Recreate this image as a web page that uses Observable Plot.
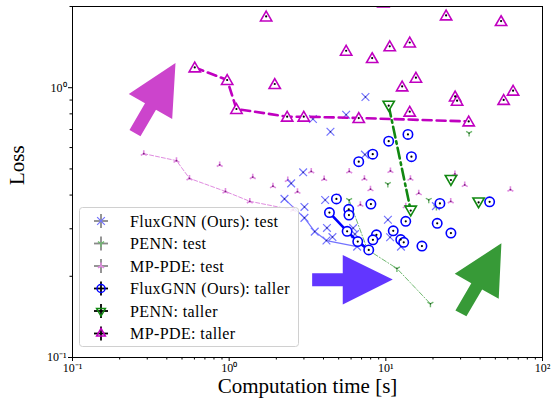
<!DOCTYPE html>
<html>
<head>
<meta charset="utf-8">
<script src="https://cdn.jsdelivr.net/npm/d3@7"></script>
<script src="https://cdn.jsdelivr.net/npm/@observablehq/plot@0.6"></script>
<style>
  body { margin: 0; background: white; }
  #wrap { position: relative; width: 552px; height: 405px; }
  #legend { position: absolute; left: 79px; top: 207px; }
</style>
</head>
<body>
<div id="wrap"></div>
<script>
// ---- tick definitions ----
const xMajor = [0.1, 1, 10, 100];
const xMajorLabels = ["10⁻¹", "10⁰", "10¹", "10²"];
const xMinor = [0.2,0.3,0.4,0.5,0.6,0.7,0.8,0.9,2,3,4,5,6,7,8,9,20,30,40,50,60,70,80,90];
const yMajor = [0.1, 1];
const yMajorLabels = ["10⁻¹", "10⁰"];
const yMinor = [0.2,0.3,0.4,0.5,0.6,0.7,0.8,0.9,2];

const xLabel = "Computation time [s]";
const yLabel = "Loss";

// ---- series: [time (s), loss] ----
const fluxTestLine = [[2.254,0.3871],[3.023,0.3293],[3.518,0.2929],[4.178,0.2713],[6.559,0.2577]];
const fluxTestPts = [[2.967,0.4857],[2.487,0.4420],[3.023,0.3615],[4.100,0.3837],[4.209,0.3022],[4.562,0.2795],
  [6.184,0.3018],[6.350,0.2867],[7.357,0.5649],[10.31,0.3239],[10.65,0.2790],[12.49,0.2577],[20.87,0.3640],
  [7.41,0.924],[3.426,0.766],[5.58,0.794],[4.431,0.687]];

const pennTestLine = [[5.833,0.3831],[7.63,0.2512],[11.77,0.2137],[19.26,0.1581]];
const pennTestPts = [[34.0,0.6784],[10.30,0.4391],[18.79,0.3837],[21.03,0.3608]];

const mpTestLine = [[0.285,0.5696],[0.461,0.5366],[0.558,0.4613],[0.947,0.4126],[1.354,0.3793],[2.561,0.3524]];
const mpTestPts = [[0.870,0.5177],[1.414,0.4665],[1.903,0.4317],[2.366,0.4550],[2.729,0.4119],[3.342,0.4898],
  [4.040,0.4589],[5.84,0.4898],[7.30,0.4603],[7.98,0.4207],[10.70,0.4915],[6.88,0.3686],[5.02,0.3937],
  [14.36,0.4603],[16.22,0.4067],[27.6,0.4790],[31.88,0.4362],[62.4,0.4192],[25.95,0.3793],[13.40,0.3640]];

const fluxTallerLine = [[4.365,0.3444],[5.662,0.2936],[6.618,0.2689],[7.779,0.2505]];
const fluxTallerPts = [[10.43,0.6336],[13.84,0.6714],[14.57,0.5553],[6.716,0.532],[8.25,0.5673],[4.838,0.3871],
  [5.798,0.3542],[5.815,0.3372],[8.03,0.3703],[13.40,0.3196],[11.15,0.2948],[8.71,0.2850],[8.27,0.2729],
  [12.45,0.2735],[13.01,0.2673],[17.00,0.2588],[22.14,0.3725],[21.28,0.3144],[26.03,0.2891],[45.97,0.3776]];

const pennTallerLine = [[10.43,0.858],[14.42,0.3503]];
const pennTallerPts = [[26.03,0.455],[39.1,0.3757]];

const mpTallerLine = [[0.603,1.189],[0.971,1.068],[1.113,0.834],[2.345,0.781],[2.993,0.781],[6.716,0.772],[33.8,0.750]];
const mpTallerPts = [[1.722,1.837],[1.954,1.032],[5.58,1.371],[8.18,1.288],[10.59,1.424],[14.21,1.471],[24.25,1.853],
  [54.4,1.766],[15.56,1.089],[12.71,1.011],[27.69,0.928],[28.5,0.895],[56.5,0.901],[64.9,0.975],[14.21,0.815],[9.65,2.07]];

// ---- annotation arrows (polygons in data units) ----
const magentaArrow = [[0.4544,1.2347],[0.2287,0.9477],[0.2903,0.8754],[0.2311,0.6970],[0.2716,0.6603],[0.3411,0.8289],[0.4328,0.7657]];
const blueArrow = [[3.386,0.2052],[5.309,0.2052],[5.309,0.2401],[11.07,0.1945],[5.309,0.1572],[5.309,0.1837],[3.386,0.1837]];
const greenArrow = [[54.67,0.2651],[27.53,0.2042],[35.13,0.1884],[27.81,0.1493],[32.69,0.1422],[41.18,0.1788],[52.55,0.1650]];

const legendLabels = ["FluxGNN (Ours): test","PENN: test","MP-PDE: test","FluxGNN (Ours): taller","PENN: taller","MP-PDE: taller"];

// ---- colours ----
const C = {
  blue: "#0000ff", blueLight: "#7373ff",
  green: "#118811", greenLight: "#6fb86f",
  mag: "#c000c0", magLight: "#e08ce0",
  arrowMag: "#cc44cc", arrowBlue: "#6236ff", arrowGreen: "#379a37"
};

// custom tri symbols (matplotlib "1" and "2")
const triDown = { draw(ctx, size) { const r = Math.sqrt(size / Math.PI);
  ctx.moveTo(0,0); ctx.lineTo(0, r); ctx.moveTo(0,0); ctx.lineTo(-0.866*r, -0.5*r); ctx.moveTo(0,0); ctx.lineTo(0.866*r, -0.5*r); } };
const triUp = { draw(ctx, size) { const r = Math.sqrt(size / Math.PI);
  ctx.moveTo(0,0); ctx.lineTo(0, -r); ctx.moveTo(0,0); ctx.lineTo(-0.866*r, 0.5*r); ctx.moveTo(0,0); ctx.lineTo(0.866*r, 0.5*r); } };

const X = d => d[0], Y = d => d[1];

const chart = Plot.plot({
  width: 552, height: 405,
  marginLeft: 72, marginRight: 10, marginTop: 6, marginBottom: 48,
  style: { fontFamily: "'Liberation Serif', serif", fontSize: "12px", background: "white", color: "black" },
  x: { type: "log", domain: [0.1, 100] },
  y: { type: "log", domain: [0.1, 2] },
  marks: [
    // arrows
    Plot.line(magentaArrow, { x: X, y: Y, fill: C.arrowMag, stroke: "none", curve: "linear-closed" }),
    Plot.line(blueArrow, { x: X, y: Y, fill: C.arrowBlue, stroke: "none", curve: "linear-closed" }),
    Plot.line(greenArrow, { x: X, y: Y, fill: C.arrowGreen, stroke: "none", curve: "linear-closed" }),
    // test lines
    Plot.line(mpTestLine, { x: X, y: Y, stroke: C.magLight, strokeWidth: 1, strokeDasharray: "4,2" }),
    Plot.line(pennTestLine, { x: X, y: Y, stroke: C.greenLight, strokeWidth: 1, strokeDasharray: "5,2,1,2" }),
    Plot.line(fluxTestLine, { x: X, y: Y, stroke: C.blueLight, strokeWidth: 1.2 }),
    // test markers
    Plot.dot(mpTestPts.concat(mpTestLine), { x: X, y: Y, symbol: triUp, r: 3.4, stroke: C.magLight, strokeWidth: 1.6 }),
    Plot.dot(mpTestPts.concat(mpTestLine), { x: X, y: Y, r: 0.9, fill: "#802080", stroke: null }),
    Plot.dot(pennTestPts.concat(pennTestLine), { x: X, y: Y, symbol: triDown, r: 3.4, stroke: C.greenLight, strokeWidth: 1.4 }),
    Plot.dot(pennTestPts.concat(pennTestLine), { x: X, y: Y, r: 0.8, fill: "#205020", stroke: null }),
    Plot.dot(fluxTestPts.concat(fluxTestLine), { x: X, y: Y, symbol: "times", r: 3.6, stroke: C.blueLight, strokeWidth: 1.2 }),
    Plot.dot(fluxTestPts.concat(fluxTestLine), { x: X, y: Y, r: 0.8, fill: "#202080", stroke: null }),
    // taller lines
    Plot.line(mpTallerLine, { x: X, y: Y, stroke: C.mag, strokeWidth: 2.6, strokeDasharray: "9,5" }),
    Plot.line(pennTallerLine, { x: X, y: Y, stroke: C.green, strokeWidth: 2.6, strokeDasharray: "11,4,2.5,4" }),
    Plot.line(fluxTallerLine, { x: X, y: Y, stroke: C.blue, strokeWidth: 2.6 }),
    // taller markers
    Plot.dot(mpTallerPts.concat(mpTallerLine), { x: X, y: Y, symbol: "triangle", r: 4.2, dy: 1.2, stroke: C.mag, strokeWidth: 1.6, fill: "white", clip: true }),
    Plot.dot(pennTallerPts.concat(pennTallerLine), { x: X, y: Y, symbol: "triangle", rotate: 180, r: 4.2, dy: -1.2, stroke: C.green, strokeWidth: 1.6, fill: "white" }),
    Plot.dot(fluxTallerPts.concat(fluxTallerLine), { x: X, y: Y, symbol: "circle", r: 4.7, stroke: C.blue, strokeWidth: 1.6, fill: "white" }),
    Plot.dot(mpTallerPts.concat(mpTallerLine, pennTallerPts, pennTallerLine, fluxTallerPts, fluxTallerLine), { x: X, y: Y, r: 1.1, fill: "black", stroke: null, clip: true }),
    // frame & axes
    Plot.frame({ stroke: "black", strokeWidth: 1 }),
    Plot.axisX(xMajor, { tickSize: 4, tickPadding: 2, tickFormat: d => xMajorLabels[xMajor.indexOf(d)], label: null }),
    Plot.axisX(xMinor, { tickSize: 2.5, tickFormat: () => "", label: null }),
    Plot.axisY(yMajor, { tickSize: 4, tickPadding: 2, tickFormat: d => yMajorLabels[yMajor.indexOf(d)], label: null }),
    Plot.axisY(yMinor, { tickSize: 2.5, tickFormat: () => "", label: null }),
    Plot.text([xLabel], { frameAnchor: "bottom", dy: 35, fontSize: 21, text: d => d }),
    Plot.text([yLabel], { frameAnchor: "left", dx: -55, dy: 3, rotate: -90, fontSize: 21, text: d => d })
  ]
});
document.getElementById("wrap").appendChild(chart);

// ---- legend (inside the plot area) ----
const lw = 219, lh = 139;
const leg = d3.select("#wrap").append("svg").attr("id", "legend").attr("width", lw + 1).attr("height", lh + 1);
leg.append("rect").attr("x", 0.5).attr("y", 0.5).attr("width", lw).attr("height", lh).attr("rx", 3)
  .attr("fill", "white").attr("fill-opacity", 0.85).attr("stroke", "#d0d0d0");
const sym = {
  times: d3.symbol(d3.symbolTimes, Math.PI * 3.6 * 3.6)(),
  triUp: d3.symbol(triUp, Math.PI * 3.6 * 3.6)(),
  triDown: d3.symbol(triDown, Math.PI * 3.6 * 3.6)(),
  circle: d3.symbol(d3.symbolCircle, Math.PI * 4 * 4)(),
  tri: d3.symbol(d3.symbolTriangle2, Math.PI * 4.2 * 4.2)()
};
const legendStyles = [
  { path: sym.times, stroke: C.blueLight, fill: "none", cross: "#8a8a8a", sw: 1.2 },
  { path: sym.triDown, stroke: C.greenLight, fill: "none", cross: "#8a8a8a", sw: 1.4 },
  { path: sym.triUp, stroke: C.magLight, fill: "none", cross: "#8a8a8a", sw: 1.6 },
  { path: sym.circle, stroke: C.blue, fill: "none", cross: "black", sw: 1.5 },
  { path: sym.tri, stroke: C.green, fill: "none", cross: "black", sw: 1.5, rot: 180 },
  { path: sym.tri, stroke: C.mag, fill: "none", cross: "black", sw: 1.5 }
];
legendLabels.forEach((label, i) => {
  const cy = 14 + 22.5 * i, cx = 22;
  const g = leg.append("g");
  g.append("line").attr("x1", cx - 7).attr("x2", cx + 7).attr("y1", cy).attr("y2", cy).attr("stroke", legendStyles[i].cross).attr("stroke-width", 1.8);
  g.append("line").attr("x1", cx).attr("x2", cx).attr("y1", cy - 7).attr("y2", cy + 7).attr("stroke", legendStyles[i].cross).attr("stroke-width", 1.8);
  g.append("path").attr("d", legendStyles[i].path)
    .attr("transform", `translate(${cx},${cy}) rotate(${legendStyles[i].rot || 0})`)
    .attr("fill", legendStyles[i].fill).attr("stroke", legendStyles[i].stroke).attr("stroke-width", legendStyles[i].sw);
  g.append("text").attr("x", 51).attr("y", cy).attr("dy", "0.35em")
    .attr("font-family", "'Liberation Serif', serif").attr("font-size", 16).attr("letter-spacing", 0.4)
    .text(label);
});
</script>
</body>
</html>
